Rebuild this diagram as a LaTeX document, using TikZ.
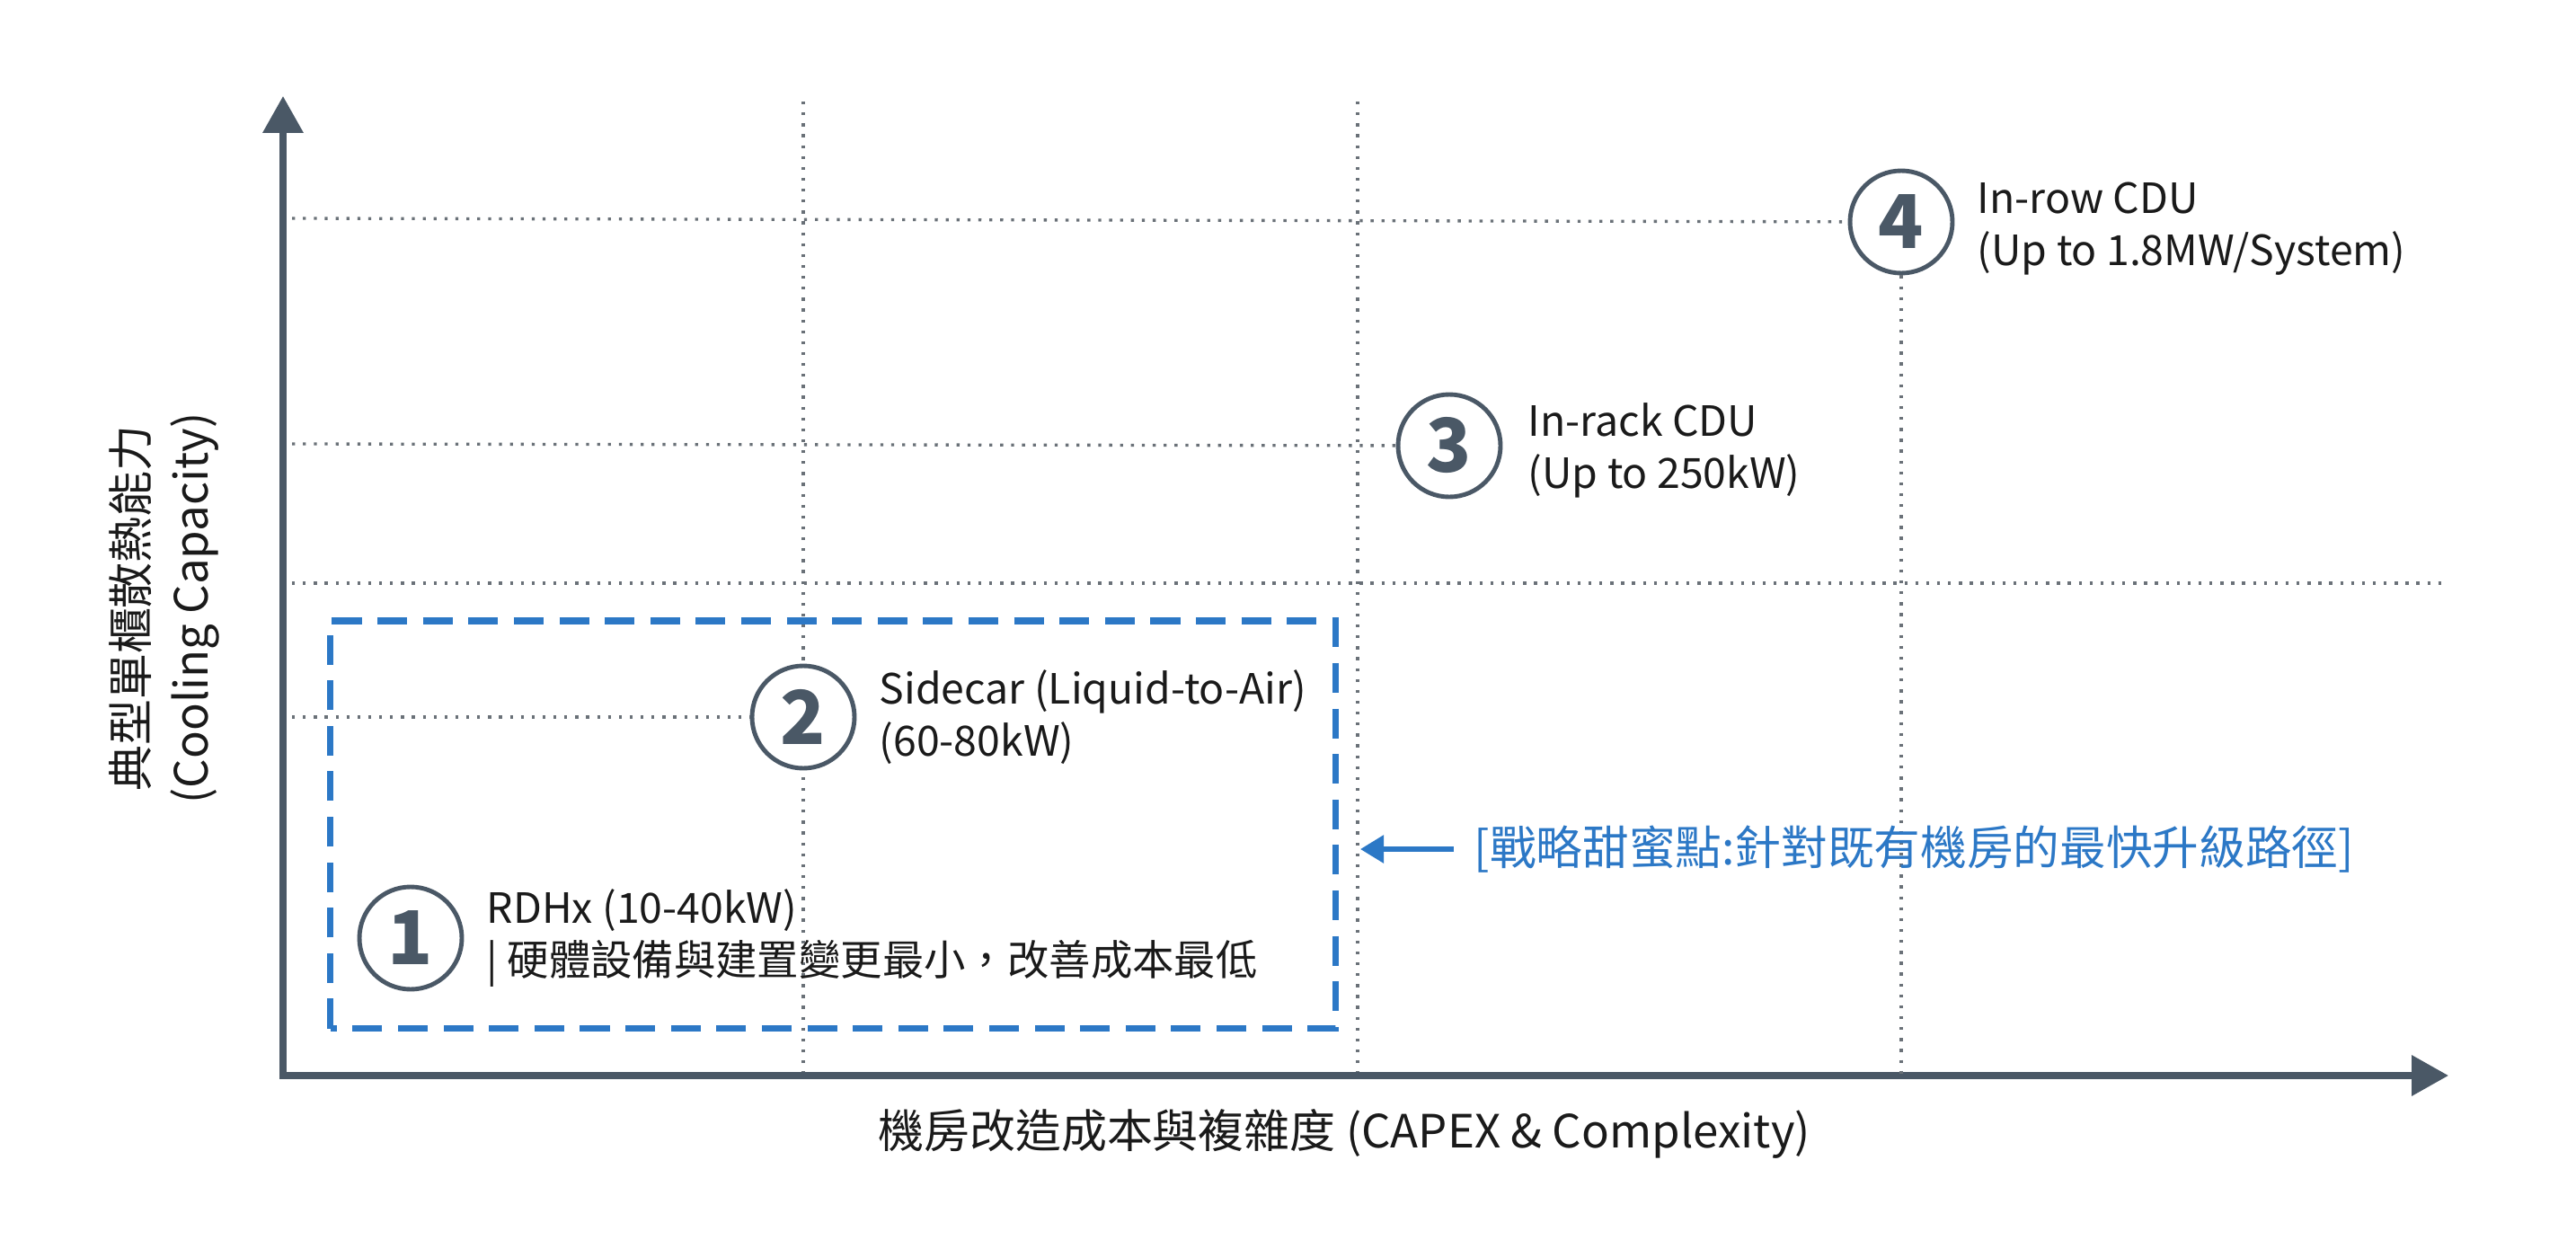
\documentclass[tikz,border=0pt]{standalone}
\usepackage{fontspec}
\setmainfont{Noto Sans CJK TC}
\usetikzlibrary{arrows.meta}
\definecolor{axisgray}{HTML}{4A5866}
\definecolor{gridgray}{HTML}{6A7178}
\definecolor{sweetblue}{HTML}{2C78C6}
\definecolor{labelblack}{HTML}{1A1A1A}

\begin{document}
\begin{tikzpicture}[x=1mm,y=1mm,
    axis/.style={line width=2pt, draw=axisgray, -{Triangle[length=4.1mm,width=4.4mm]}},
    gridline/.style={draw=gridgray, line width=0.95pt, dash pattern=on 0.95pt off 2.5pt},
    stage/.style={circle, draw=axisgray, line width=1.4pt, fill=white, minimum size=11.4mm,
                  inner sep=0pt, text=axisgray, font=\fontsize{23.5}{23.5}\selectfont\bfseries},
    stagetext/.style={anchor=west, align=left, inner sep=0pt, text=labelblack,
                      font=\fontsize{13.2}{16.5}\selectfont},
    axislabel/.style={text=labelblack, align=center, font=\fontsize{14.5}{19}\selectfont}]
  \useasboundingbox (0,0) rectangle (286.7,137.9);

  % grid lines that run through
  \foreach \gx in {89.4,151.1}
    \draw[gridline] (\gx,126.6) -- (\gx,18.2);
  \draw[gridline] (32.5,73.0) -- (272.5,73.0);

  % sweet spot box
  \draw[draw=sweetblue, line width=2pt, dash pattern=on 9.4pt off 5pt]
        (36.75,23.45) rectangle (148.66,68.8);

  % axes
  \coordinate (o) at (31.5,18.2);
  \coordinate (ytip) at (31.5,127.2);
  \coordinate (xtip) at (272.5,18.2);
  \draw[axis] (o) -- (ytip);
  \draw[axis] ([xshift=-1pt]o) -- (xtip);

  % stages
  \node[stage] (c1) at (45.7,33.5) {1};
  \node[stage] (c2) at (89.4,58.1) {2};
  \node[stage] (c3) at (161.3,88.3) {3};
  \node[stage] (c4) at (211.6,113.2) {4};

  % grid lines that stop at a stage
  \draw[gridline] (32.5,113.6) -- (c4);
  \draw[gridline] (32.5,88.5) -- (c3);
  \draw[gridline] (32.5,58.1) -- (c2);
  \draw[gridline] (c4) -- (211.6,18.2);

  \node[stagetext] (t1) at (54.1,33.5) {RDHx (10-40kW)\\| 硬體設備與建置變更最小，改善成本最低};
  \node[stagetext] (t2) at (97.8,58.1) {Sidecar (Liquid-to-Air)\\(60-80kW)};
  \node[stagetext] (t3) at (170.0,87.8) {In-rack CDU\\(Up to 250kW)};
  \node[stagetext] (t4) at (220.0,112.4) {In-row CDU\\(Up to 1.8MW/System)};

  % sweet spot note
  \node[anchor=west, inner sep=0pt, text=sweetblue, font=\fontsize{14.7}{17}\selectfont]
        (sweet) at (164.0,43.4) {[戰略甜蜜點:針對既有機房的最快升級路徑]};
  \coordinate (sweettip) at (151.4,43.4);
  \draw[draw=sweetblue, line width=1.6pt, -{Triangle[length=2.6mm,width=3mm]}]
        ([xshift=-2.2mm]sweet.west) -- (sweettip);

  % axis labels
  \node[axislabel, rotate=90] (ylab) at (18.3,70.2) {典型單櫃散熱能力\\(Cooling Capacity)};
  \node[axislabel] (xlab) at (149.6,11.7) {機房改造成本與複雜度 (CAPEX \& Complexity)};
\end{tikzpicture}
\end{document}
